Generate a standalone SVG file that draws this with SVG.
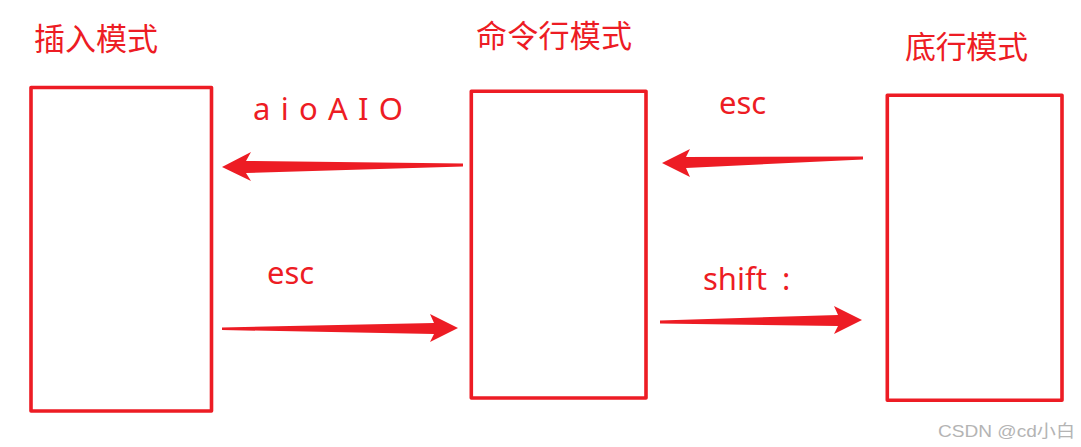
<svg xmlns="http://www.w3.org/2000/svg" width="1081" height="447" viewBox="0 0 1081 447">
<style>
.box{fill:none;stroke:#ED1C24;stroke-width:3.6;stroke-linejoin:round}
.title{font-family:"Noto Sans CJK SC","Noto Sans",sans-serif;font-size:31px;fill:#ED1C24}
.lbl{font-family:"Noto Sans","Noto Sans CJK SC",sans-serif;font-size:31px;fill:#ED1C24}
.arr{fill:#ED1C24}
.wm{font-family:"Liberation Sans","Noto Sans CJK SC",sans-serif;font-size:17px;fill:#B4B4B4}
</style>
<rect width="1081" height="447" fill="#ffffff"/>
<g id="insert-mode">
<rect class="box" x="31" y="87.5" width="180.5" height="323.5"/>
<text class="title" x="34" y="50" textLength="124" lengthAdjust="spacing">插入模式</text>
</g>
<g id="command-mode">
<rect class="box" x="471.3" y="91.3" width="174.7" height="306.7"/>
<text class="title" x="476" y="47" textLength="156" lengthAdjust="spacing">命令行模式</text>
</g>
<g id="bottom-line-mode">
<rect class="box" x="887.3" y="95.3" width="174.7" height="305"/>
<text class="title" x="905" y="58" textLength="123" lengthAdjust="spacing">底行模式</text>
</g>
<g id="connectors">
<polygon class="arr" points="222,167 251,152 246,161 463,163.5 463,166.5 246,173 251,181"/>
<polygon class="arr" points="458,328 430,314 434,323 222,327.5 222,330 434,334 430,342"/>
<polygon class="arr" points="662,163 690,149 686,157 863,156.5 863,159.5 686,168 690,177"/>
<polygon class="arr" points="862,320 834,306 838,315 660,320.5 660,323.5 838,326 834,334"/>
<text class="lbl" x="253" y="120" textLength="150" lengthAdjust="spacing">a i o A I O</text>
<text class="lbl" x="267" y="284">esc</text>
<text class="lbl" x="719" y="114">esc</text>
<text class="lbl" x="703" y="290">shift</text>
<text class="lbl" x="782" y="290">:</text>
</g>
<text class="wm" x="938" y="437" textLength="137" lengthAdjust="spacingAndGlyphs">CSDN @cd小白</text>
</svg>
